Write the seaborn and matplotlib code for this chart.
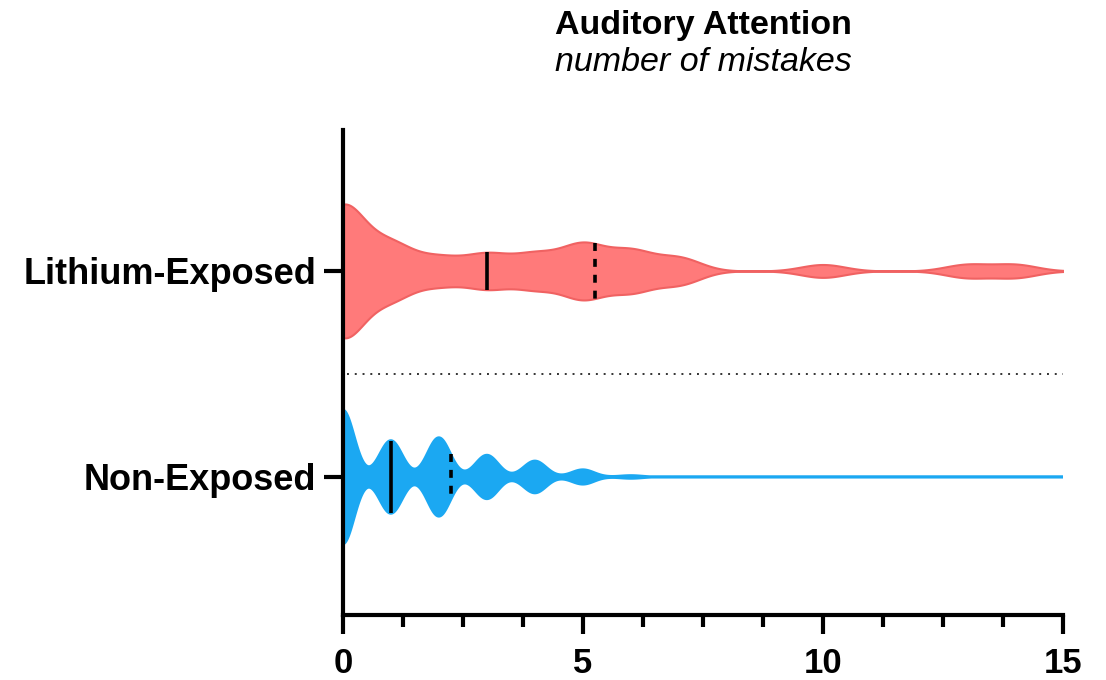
import matplotlib
matplotlib.use("Agg")
import matplotlib.pyplot as plt
import numpy as np
import pandas as pd
import seaborn as sns
from matplotlib.ticker import MultipleLocator

plt.rcParams["font.family"] = ["Liberation Sans", "DejaVu Sans"]

groups = ["Lithium-Exposed", "Non-Exposed"]
fill_colors = ["#FF7A7A", "#1BA8F2"]
edge_colors = ["#F06262", "#1BA8F2"]
edge_widths = [1.5, 1.9]

# number of mistakes -> how many children made that many
lithium_mistakes = [0, 1, 2, 3, 4, 5, 6, 7, 10, 13, 14]
lithium_counts = [20, 8, 4, 5, 5, 8, 6, 4, 2, 2, 2]
nonexp_mistakes = [0, 1, 2, 3, 4, 5, 6]
nonexp_counts = [46, 25, 27, 15, 11, 5, 1]

x_ticks = [0, 5, 10, 15]

df = pd.concat([
    pd.DataFrame({"group": groups[0],
                  "mistakes": np.repeat(lithium_mistakes, lithium_counts)}),
    pd.DataFrame({"group": groups[1],
                  "mistakes": np.repeat(nonexp_mistakes, nonexp_counts)}),
], ignore_index=True)

# kde settings per group (lithium smoother, non-exposed follows the integers);
# cut is large enough for the violin tail to run out to the end of the axis
kde_kws = {
    groups[0]: {"bw_adjust": 0.285, "cut": 2.5, "gridsize": 800},
    groups[1]: {"bw_adjust": 0.41, "cut": 40, "gridsize": 2500},
}

fig = plt.figure(figsize=(11.06, 6.8), dpi=100)
ax = fig.add_axes([0.310, 0.0956, 0.651, 0.7132])

for i, (g, fc, ec, lw) in enumerate(zip(groups, fill_colors, edge_colors, edge_widths)):
    sub = df[df["group"] == g]
    sns.violinplot(data=sub, x="mistakes", y="group", order=groups, orient="h",
                   color=fc, linecolor=ec, linewidth=lw, saturation=1,
                   density_norm="width", width=0.65, inner=None, ax=ax,
                   **kde_kws[g])
    # median (solid) and upper quartile (dashed), spanning the violin
    verts = ax.collections[-1].get_paths()[0].vertices
    top = verts[verts[:, 1] <= i]
    top = top[np.argsort(top[:, 0])]
    med, q3 = np.percentile(sub["mistakes"], [50, 75], method="weibull")
    for val, ls in [(med, "-"), (q3, (0, (2.2, 2.2)))]:
        hw = i - np.interp(val, top[:, 0], top[:, 1])
        ax.plot([val, val], [i - hw, i + hw], color="black", lw=2.6,
                ls=ls, solid_capstyle="butt", dash_capstyle="butt", zorder=3)

# dotted separator between the groups
ax.plot([0.08, 15], [0.5, 0.5], color="#333333", lw=1.4, ls=(0, (1, 3)))

ax.set_xlim(0, 15)
ax.set_ylim(1.67, -0.684)
ax.set_xticks(x_ticks)
ax.xaxis.set_minor_locator(MultipleLocator(1.25))
ax.set_xlabel("")
ax.set_ylabel("")
sns.despine(ax=ax)
for side in ["left", "bottom"]:
    ax.spines[side].set_linewidth(3)
ax.tick_params(axis="both", which="major", width=3, length=14, color="black")
ax.tick_params(axis="x", which="minor", width=3, length=8.5, color="black")
ax.tick_params(axis="x", pad=9)
ax.tick_params(axis="y", pad=5)
for lab in ax.get_xticklabels():
    lab.set_fontsize(25)
    lab.set_fontweight("bold")
for lab in ax.get_yticklabels():
    lab.set_fontsize(26)
    lab.set_fontweight("bold")

fig.text(0.6356, 1 - 34 / 680, "Auditory Attention", ha="center",
         va="baseline", fontsize=24.5, fontweight="bold")
fig.text(0.6356, 1 - 71 / 680, "number of mistakes", ha="center",
         va="baseline", fontsize=24.5, style="italic")

fig.savefig("out.png", dpi=100)
